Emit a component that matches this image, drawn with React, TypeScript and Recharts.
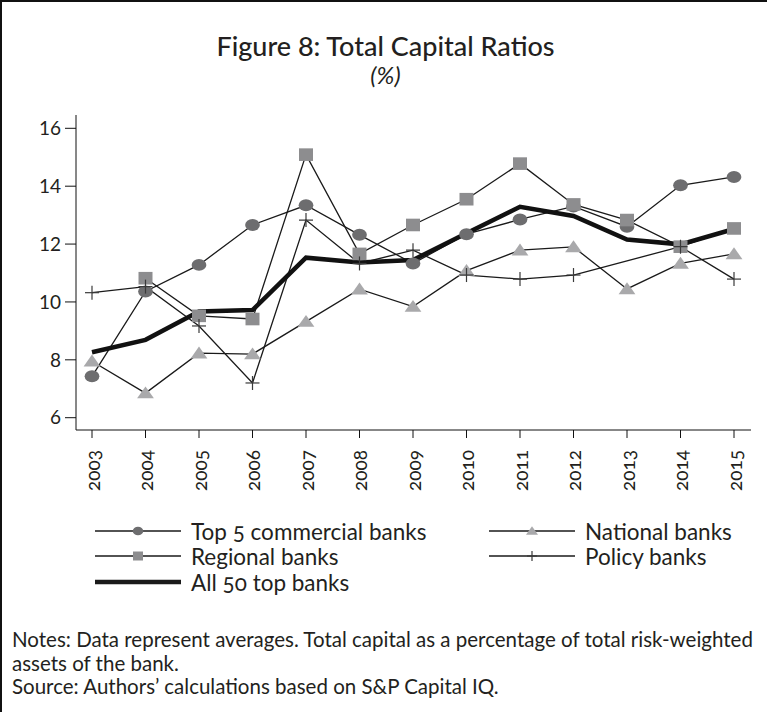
import React from 'react';
import { LineChart, Line, XAxis, YAxis } from 'recharts';

const years = [2003, 2004, 2005, 2006, 2007, 2008, 2009, 2010, 2011, 2012, 2013, 2014, 2015];
const top5 = [7.43, 10.36, 11.28, 12.66, 13.34, 12.32, 11.33, 12.34, 12.85, 13.3, 12.6, 14.03, 14.32];
const national = [7.95, 6.85, 8.23, 8.2, 9.32, 10.44, 9.84, 11.08, 11.79, 11.9, 10.45, 11.33, 11.66];
const regional = [null, 10.82, 9.52, 9.41, 15.09, 11.66, 12.66, 13.55, 14.78, 13.37, 12.83, 11.91, 12.54];
const policy = [10.32, 10.53, 9.17, 7.2, 12.83, 11.33, 11.79, 10.93, 10.79, 10.93, null, 11.91, 10.79];
const all50 = [8.26, 8.69, 9.67, 9.72, 11.53, 11.36, 11.45, 12.37, 13.29, 12.97, 12.16, 11.99, 12.52];
const yTicks = [6, 8, 10, 12, 14, 16];

const data = years.map((year, i) => ({
  year,
  top5: top5[i],
  national: national[i],
  regional: regional[i],
  policy: policy[i],
  all50: all50[i],
}));

const FONT = 'Lato, "Open Sans", sans-serif';
const TEXT = '#231f20';

type Kind = 'circle' | 'square' | 'triangle' | 'plus';

const marker = (kind: Kind, cx: number, cy: number, s: number, key?: any) => {
  if (kind === 'circle') return <ellipse key={key} cx={cx} cy={cy} rx={s * 1.05} ry={s * 0.85} fill="#6d6d6f" />;
  if (kind === 'square') return <rect key={key} x={cx - s} y={cy - s * 0.9} width={s * 2} height={s * 1.8} fill="#8d8d8f" />;
  if (kind === 'triangle')
    return (
      <polygon
        key={key}
        points={`${cx - s * 1.2},${cy + s * 0.75} ${cx + s * 1.2},${cy + s * 0.75} ${cx},${cy - s * 0.95}`}
        fill="#a9a9ab"
      />
    );
  return (
    <g key={key} stroke="#3a3a3a" strokeWidth={1.2}>
      <line x1={cx - s} y1={cy} x2={cx + s} y2={cy} />
      <line x1={cx} y1={cy - s} x2={cx} y2={cy + s} />
    </g>
  );
};

const makeDot = (kind: Kind) => (props: any) => {
  const { cx, cy, index, value } = props;
  if (value == null || cx == null || cy == null) return <g key={index} />;
  return marker(kind, cx, cy, 7, index);
};

const YearTick = (props: any) => {
  const { x, y, payload } = props;
  return (
    <text
      x={x}
      y={y}
      transform={`rotate(-90, ${x}, ${y})`}
      textAnchor="end"
      dominantBaseline="central"
      fontSize={19}
      fontFamily={FONT}
      fill={TEXT}
      style={{ fontVariantNumeric: 'oldstyle-nums' }}
    >
      {payload.value}
    </text>
  );
};

const LegendItem = ({ kind, label, left, top }: { kind: Kind | 'thick'; label: string; left: number; top: number }) => (
  <div style={{ position: 'absolute', left, top, display: 'flex', alignItems: 'center', height: 26 }}>
    <svg width={90} height={26}>
      {kind === 'thick' ? (
        <line x1={2} y1={13} x2={88} y2={13} stroke="#1a1a1a" strokeWidth={4.5} />
      ) : (
        <>
          <line x1={2} y1={13} x2={88} y2={13} stroke="#1a1a1a" strokeWidth={1.3} />
          {marker(kind, 45, 13, 5)}
        </>
      )}
    </svg>
    <span style={{ marginLeft: 8, fontSize: 22.5, color: TEXT, fontFamily: FONT, whiteSpace: 'nowrap', fontVariantNumeric: 'oldstyle-nums' }}>
      {label}
    </span>
  </div>
);

export default function App() {
  return (
    <div
      style={{
        position: 'absolute',
        left: 0,
        top: 0,
        width: 767,
        height: 712,
        background: '#fff',
        borderTop: '2px solid #111',
        borderLeft: '2px solid #111',
        boxSizing: 'border-box',
        fontFamily: FONT,
        color: TEXT,
        overflow: 'hidden',
      }}
    >
      <div style={{ position: 'absolute', left: 0, width: 767, top: 27, textAlign: 'center', fontSize: 27, fontWeight: 500 }}>
        Figure 8: Total Capital Ratios
      </div>
      <div style={{ position: 'absolute', left: 0, width: 767, top: 58, textAlign: 'center', fontSize: 24, fontStyle: 'italic' }}>
        (%)
      </div>

      <div style={{ position: 'absolute', left: -2, top: -2 }}>
        <LineChart width={767} height={500} data={data} margin={{ top: 115, right: 16, bottom: 10, left: 0 }}>
          <XAxis
            dataKey="year"
            type="category"
            padding={{ left: 16, right: 17 }}
            stroke="#111"
            tickSize={8}
            tickMargin={12}
            tick={<YearTick />}
            interval={0}
            height={60}
          />
          <XAxis xAxisId="top" dataKey="year" orientation="top" height={0} tick={false} stroke="#a0a0a0" padding={{ left: 16, right: 17 }} />
          <YAxis
            domain={[5.575, 16.46]}
            ticks={yTicks}
            width={76}
            stroke="#111"
            tickSize={11}
            tickMargin={4}
            tick={{ fontSize: 19, fill: TEXT, fontFamily: FONT }}
            allowDataOverflow
          />
          <YAxis yAxisId="right" orientation="right" width={0} tick={false} stroke="#a0a0a0" domain={[5.575, 16.46]} />
          <Line dataKey="top5" stroke="#1a1a1a" strokeWidth={1.3} dot={makeDot('circle')} isAnimationActive={false} />
          <Line dataKey="national" stroke="#1a1a1a" strokeWidth={1.3} dot={makeDot('triangle')} isAnimationActive={false} />
          <Line dataKey="regional" stroke="#1a1a1a" strokeWidth={1.3} dot={makeDot('square')} isAnimationActive={false} />
          <Line dataKey="policy" stroke="#1a1a1a" strokeWidth={1.3} dot={makeDot('plus')} connectNulls isAnimationActive={false} />
          <Line dataKey="all50" stroke="#111" strokeWidth={4.5} dot={false} isAnimationActive={false} />
        </LineChart>
      </div>

      <LegendItem kind="circle" label="Top 5 commercial banks" left={91} top={516} />
      <LegendItem kind="triangle" label="National banks" left={485} top={516} />
      <LegendItem kind="square" label="Regional banks" left={91} top={541} />
      <LegendItem kind="plus" label="Policy banks" left={485} top={541} />
      <LegendItem kind="thick" label="All 50 top banks" left={91} top={567} />

      <div style={{ position: 'absolute', left: 10, top: 626, width: 760, fontSize: 20.5, lineHeight: '23.5px', whiteSpace: 'nowrap' }}>
        Notes: Data represent averages. Total capital as a percentage of total risk-weighted
        <br />
        assets of the bank.
        <br />
        Source: Authors’ calculations based on S&amp;P Capital IQ.
      </div>
    </div>
  );
}
